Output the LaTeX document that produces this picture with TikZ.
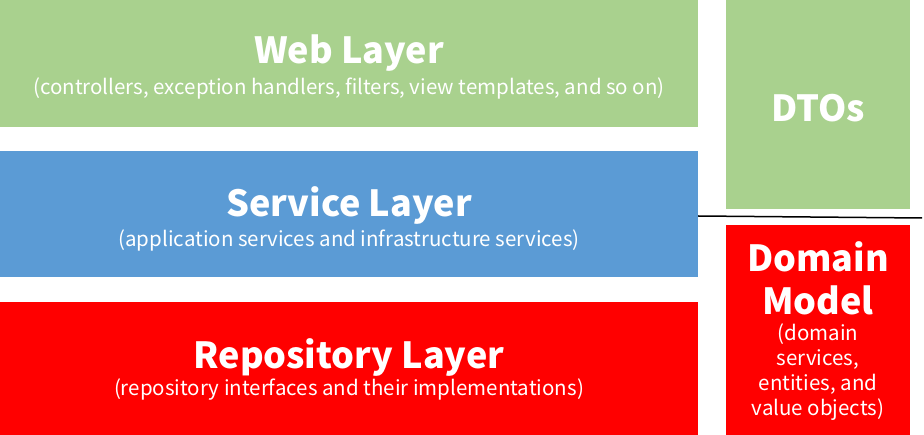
\documentclass[tikz,border=0pt]{standalone}
\usepackage{fontspec}
\setmainfont{Noto Sans CJK KR}
\definecolor{webgreen}{HTML}{A9D18E}
\definecolor{svcblue}{HTML}{5B9BD5}
\definecolor{repored}{HTML}{FF0000}
\begin{document}
\begin{tikzpicture}[x=1pt,y=-1pt,
  box/.style={inner sep=0pt, outer sep=0pt, anchor=north west},
  ttl/.style={text=white, font=\bfseries\fontsize{36}{40}\selectfont, inner sep=0pt},
  sub/.style={text=white, font=\fontsize{20.5}{25}\selectfont, inner sep=0pt, align=center}]
\useasboundingbox (0,0) rectangle (924,435);
\node[box, fill=webgreen, minimum width=698pt, minimum height=127pt] (web) at (0,0) {};
\node[box, fill=svcblue, minimum width=698pt, minimum height=126pt] (svc) at (0,151) {};
\node[box, fill=repored, minimum width=698pt, minimum height=133pt] (repo) at (0,302) {};
\node[box, fill=webgreen, minimum width=184pt, minimum height=209pt] (dto) at (726,0) {};
\node[box, fill=repored, minimum width=184pt, minimum height=210pt] (dom) at (726,225) {};
\node[ttl] (webT) at (349,53) {Web Layer};
\node[sub] (webS) at (349,88) {(controllers, exception handlers, filters, view templates, and so on)};
\node[ttl] (svcT) at (349,205) {Service Layer};
\node[sub] (svcS) at (349,240) {(application services and infrastructure services)};
\node[ttl] (repoT) at (349,357) {Repository Layer};
\node[sub] (repoS) at (349,390) {(repository interfaces and their implementations)};
\node[ttl] (dtoT) at (818,108) {DTOs};
\node[ttl] (domT1) at (818,257) {Domain};
\node[ttl] (domT2) at (818,300) {Model};
\node[sub, anchor=north] (domS) at (818,324) {(domain\\services,\\entities, and\\value objects)};
\coordinate (lineEnd) at (922,218);
\draw[line width=1.5pt] ([yshift=-2pt]svc.east) -- (lineEnd);
\end{tikzpicture}
\end{document}
